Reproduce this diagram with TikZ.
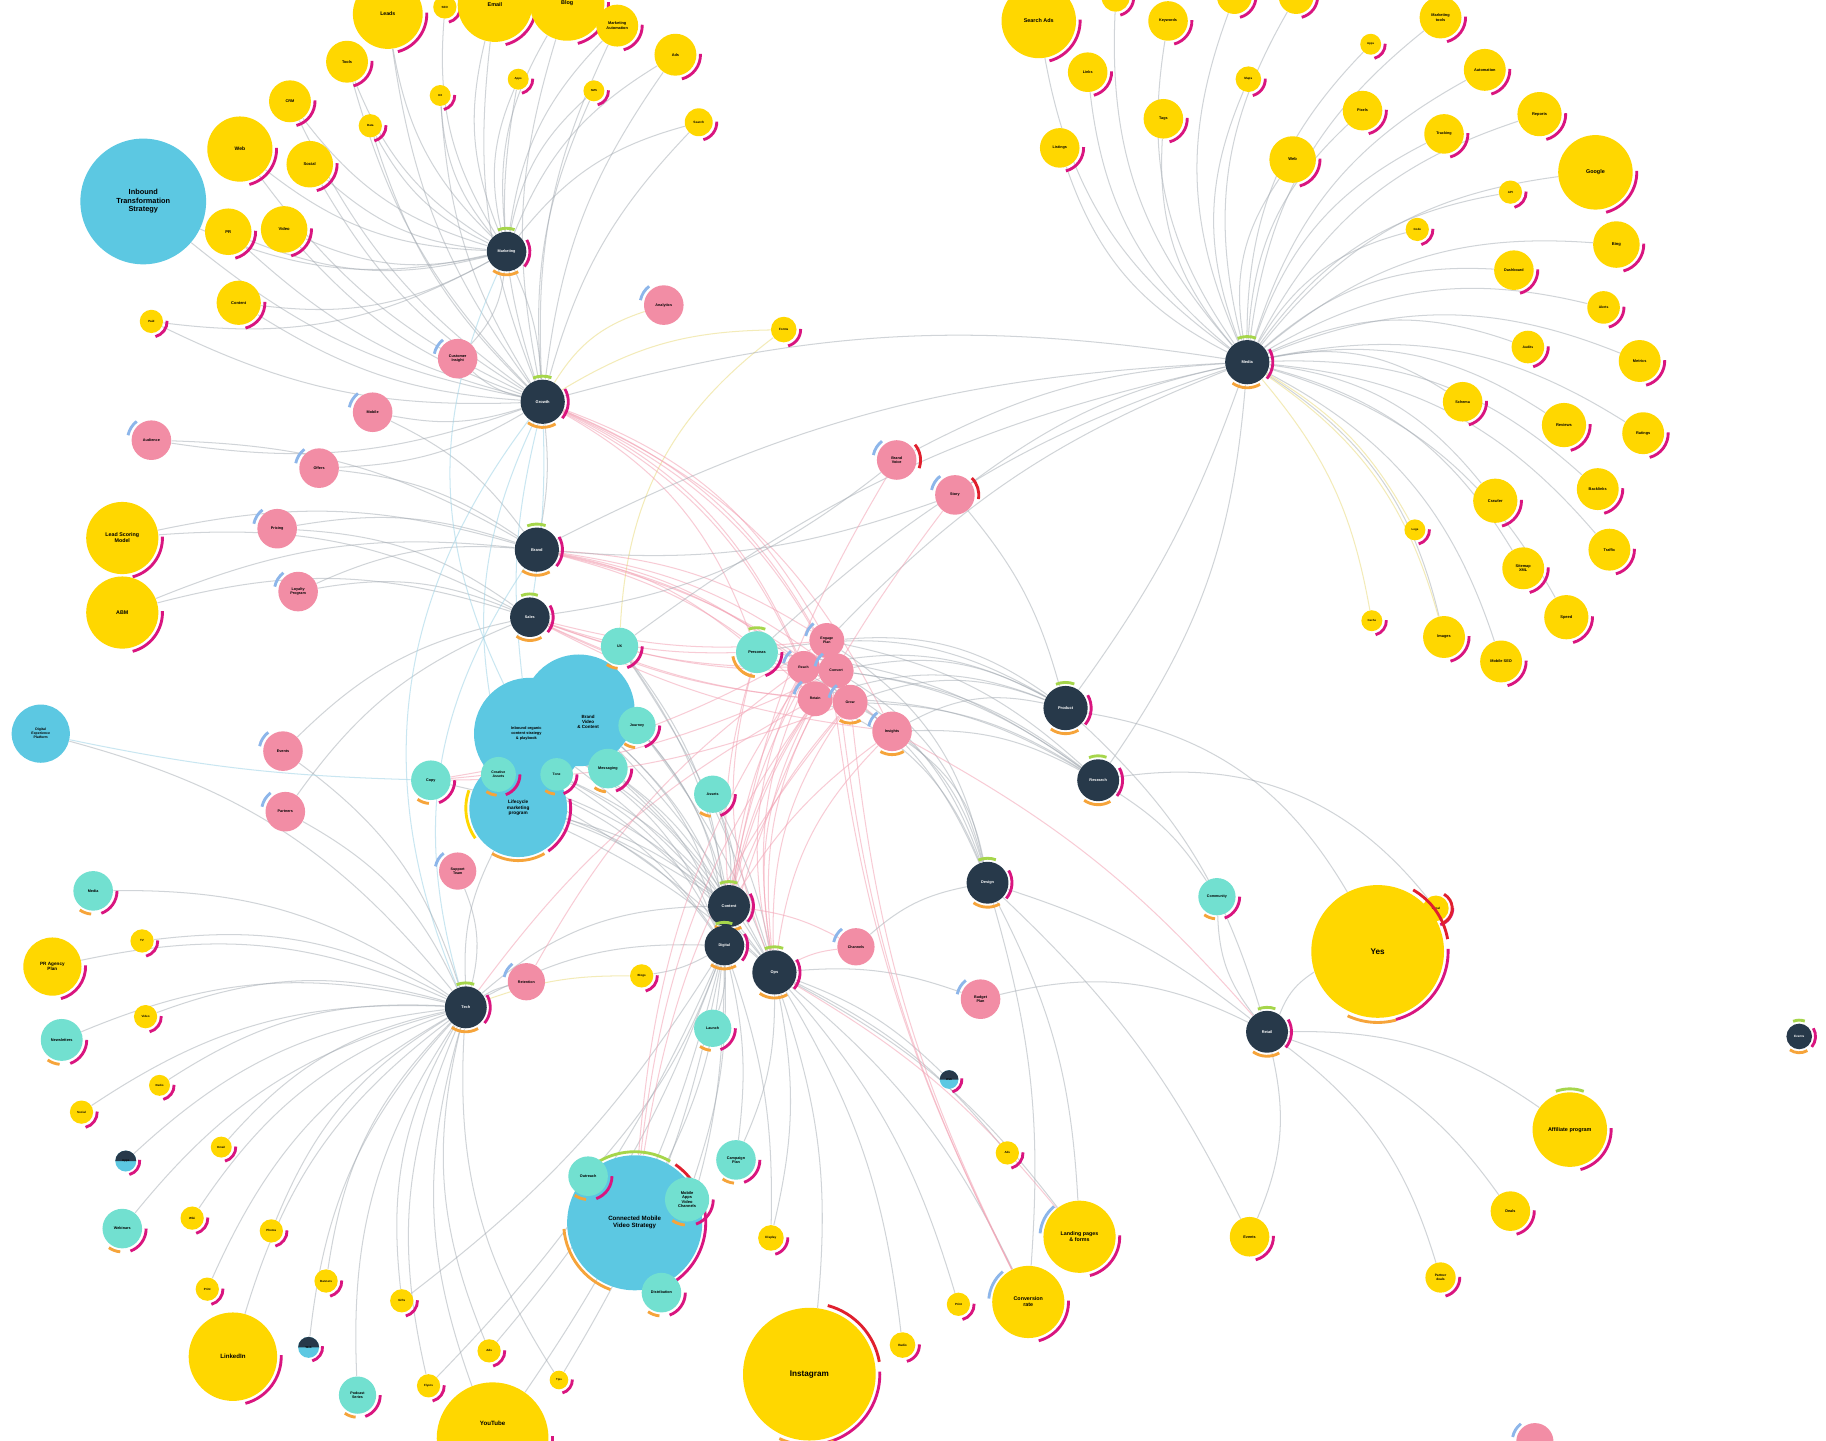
\documentclass[tikz,border=0pt]{standalone}
\usepackage{fontspec}
\setmainfont{Liberation Sans}
\usetikzlibrary{calc}
\definecolor{cY}{HTML}{FFD700}
\definecolor{cP}{HTML}{F28DA5}
\definecolor{cT}{HTML}{72E0D0}
\definecolor{cB}{HTML}{5CC8E2}
\definecolor{cD}{HTML}{27394A}
\definecolor{cM}{HTML}{D9157F}
\definecolor{cO}{HTML}{F6A43A}
\definecolor{cG}{HTML}{A6D64B}
\definecolor{cL}{HTML}{8DB6EA}
\definecolor{cR}{HTML}{E0202E}
\definecolor{cE}{HTML}{A3AAB2}
\definecolor{cEP}{HTML}{F3A2B4}
\definecolor{cEY}{HTML}{EFE39A}
\definecolor{cEB}{HTML}{9ED3E6}
\pgfdeclarelayer{bg}\pgfsetlayers{bg,main}
\newcommand\setfs[1]{\pgfmathsetmacro\myfs{min(4.0,0.9+(#1)*0.055)}\pgfmathsetmacro\myfsb{1.15*\myfs}}
\newcommand\fnt{\fontsize{\myfs pt}{\myfsb pt}\selectfont\bfseries}
\tikzset{
 nd/.style={circle,inner sep=0pt,align=center,text=black},
 ed/.style={draw=cE,line width=0.5pt,opacity=.5},
 edp/.style={draw=cEP,line width=0.5pt,opacity=.55},
 edy/.style={draw=cEY,line width=0.5pt,opacity=.7},
 edb/.style={draw=cEB,line width=0.5pt,opacity=.55},
 ring/.style={line width=1.4pt},
}
\newcommand\arcr[5]{\draw[ring,#5] (#1.center) ++(#2:{(#4)*0.02cm}) arc[start angle=#2,end angle=#3,radius={(#4)*0.02cm}];}
\newcommand\yn[5]{\setfs{#4}\node[nd,fill=cY,minimum size={#4*0.04cm},font=\fnt] (#1) at (#2,#3) {#5};\arcr{#1}{-75}{2}{#4+3.5}{cM}}
\newcommand\pn[5]{\setfs{#4}\node[nd,fill=cP,minimum size={#4*0.04cm},font=\fnt] (#1) at (#2,#3) {#5};\arcr{#1}{128}{168}{#4+3.5}{cL}}
\newcommand\tn[5]{\setfs{#4}\node[nd,fill=cT,minimum size={#4*0.04cm},font=\fnt] (#1) at (#2,#3) {#5};\arcr{#1}{-70}{0}{#4+3.5}{cM}\arcr{#1}{-125}{-95}{#4+3}{cO}}
\newcommand\bn[6]{\pgfmathsetmacro\myfs{#6}\pgfmathsetmacro\myfsb{1.15*\myfs}\node[nd,fill=cB,minimum size={#4*0.04cm},font=\fnt] (#1) at (#2,#3) {#5};}
\newcommand\hn[5]{\setfs{#4}\node[nd,fill=cD,text=white,minimum size={#4*0.04cm},font=\fnt] (#1) at (#2,#3) {#5};\arcr{#1}{70}{112}{#4+3}{cG}\arcr{#1}{-40}{30}{#4+3}{cM}\arcr{#1}{235}{300}{#4+3}{cO}}
\begin{document}
\begin{tikzpicture}[x=0.02cm,y=-0.02cm]
\useasboundingbox (0,0) rectangle (1568,1236.6);
\begin{pgfonlayer}{bg}\fill[white] (0,0) rectangle (1568,1236.6);\end{pgfonlayer}
% ---------- big blue ----------
\bn{b1}{123}{173}{54}{Inbound\\Transformation\\Strategy}{3.6}
\bn{b0}{35}{630}{25}{Digital\\Experience\\Platform}{1.7}
\bn{bb1}{455}{630}{48}{}{1.9}
\bn{bb2}{497}{610}{48}{}{2}
\node[font=\fontsize{2.2}{2.6}\selectfont\bfseries,align=center] at (505,620) {Brand\\Video\\\& Content};
\node[font=\fontsize{1.9}{2.3}\selectfont\bfseries,align=center] at (452,630) {Inbound organic\\content strategy\\\& playbook};
\bn{bb3}{445}{694}{42}{Lifecycle\\marketing\\program}{2.3}
\arcr{bb3}{-120}{-60}{45}{cO}\arcr{bb3}{-55}{10}{45}{cM}\arcr{bb3}{160}{215}{45}{cY}
\bn{B2}{545}{1050}{58}{Connected Mobile\\Video Strategy}{3.0}
\arcr{B2}{60}{120}{61}{cG}\arcr{B2}{-60}{20}{61}{cM}\arcr{B2}{185}{250}{61}{cO}\arcr{B2}{30}{55}{61}{cR}
% ---------- hubs ----------
\hn{H1}{435}{216}{17}{Marketing}
\hn{H2}{466}{345}{19}{Growth}
\hn{H3}{461}{472}{19}{Brand}
\hn{H4}{455}{530}{17}{Sales}
\hn{H5}{1071}{311}{19}{Media}
\hn{H6}{915}{608}{19}{Product}
\hn{H7}{943}{670}{18}{Research}
\hn{H8}{848}{758}{18}{Design}
\hn{H9}{626}{778}{18}{Content}
\hn{H10}{622}{812}{17}{Digital}
\hn{H11}{665}{835}{19}{Ops}
\hn{H12}{400}{865}{18}{Tech}
\hn{H13}{1088}{886}{18}{Retail}
\hn{H14}{1545}{890}{11}{Events}
% ---------- top-left yellows ----------
\foreach \n/\x/\y/\rr/\lb in {a1/333/12/30/Leads,a2/382/6/10/SEO,a3/425/4/32/Email,a4/487/3/32/Blog,
 a5/530/22/18/{Marketing\\Automation},a6/580/47/18/Ads,a7/298/53/18/Tools,a8/249/87/18/CRM,a9/206/128/28/Web,
 a10/266/141/20/Social,a11/196/199/20/PR,a12/244/197/20/Video,a13/205/260/19/Content,a14/130/276/10/Paid,
 a15/445/68/9/Apps,a16/378/82/9/UX,a17/510/78/9/SMS,a18/318/108/10/Data,a19/600/105/12/Search,
 y1/673/283/11/Forms,y2/105/462/31/{Lead Scoring\\Model},y3/105/526/31/ABM}
 {\yn{\n}{\x}{\y}{\rr}{\lb}}
% ---------- pinks ----------
\foreach \n/\x/\y/\rr/\lb in {p1/570/262/17/Analytics,p2/393/308/17/{Customer\\Insight},p3/320/354/17/Mobile,
 p4/130/378/17/Audience,p5/274/402/17/Offers,p6/238/454/17/Pricing,p7/256/508/17/{Loyalty\\Program},
 p8/243/645/17/Events,p9/245/697/17/Partners,p10/393/748/16/{Support\\Team},p11/452/843/16/Retention,
 p12/735/813/16/Channels,p13/842/858/17/{Budget\\Plan},p14/1318/1238/16/{},
 q7/770/395/17/{Brand\\Voice},q8/820/425/17/Story,q6/766/628/17/Insights,
 q1/710/550/15/{Engage\\Plan},q2/690/573/14/Reach,q3/718/576/15/Convert,q4/700/600/15/Retain,q5/730/603/15/Grow}
 {\pn{\n}{\x}{\y}{\rr}{\lb}}
\arcr{q7}{-20}{40}{20.5}{cR}\arcr{q8}{-10}{45}{20.5}{cR}\arcr{q6}{-120}{-60}{20}{cO}\arcr{q5}{-120}{-60}{18}{cO}
% ---------- teals ----------
\foreach \n/\x/\y/\rr/\lb in {c1/532/555/16/UX,c2/650/560/18/Personas,t1/547/623/16/Journey,t2/370/670/17/Copy,
 t3/428/665/15/{Creative\\Assets},t4/478/665/14/Tone,t5/522/660/17/Messaging,t6/612/682/16/Assets,
 t7/612/883/16/Launch,t8/632/996/17/{Campaign\\Plan},t9/1045/770/16/Community,
 t10/505/1010/17/Outreach,t11/590/1030/19/{Mobile\\Apps\\Video\\Channels},t12/568/1110/17/Distribution,
 t13/80/765/17/Media,t14/53/893/18/Newsletters,t15/105/1055/17/Webinars,t16/307/1198/16/{Podcast\\Series}}
 {\tn{\n}{\x}{\y}{\rr}{\lb}}
\arcr{c2}{70}{110}{21}{cG}\arcr{c2}{190}{260}{21}{cO}
% small dark-blue ones
\foreach \n/\x/\y/\rr/\lb in {s1/815/927/8/Web,s2/108/997/9/Apps,s3/265/1157/9/Web}
 {\setfs{\rr}\node[nd,fill=cB,minimum size={\rr*0.04cm},font=\fnt] (\n) at (\x,\y) {};
  \fill[cD] (\n.center) ++(180:{\rr*0.02cm}) arc[start angle=180,end angle=0,radius={\rr*0.02cm}] -- cycle;
  \node[font=\fnt] at (\n) {\lb};
  \arcr{\n}{-75}{5}{\rr+3}{cM}}
% ---------- mid/right yellows ----------
\foreach \n/\x/\y/\rr/\lb in {y4/551/838/10/Blogs,y5/865/990/10/Ads,y6/662/1063/11/Display,y7/775/1155/11/Radio,
 y8/823/1120/10/Print,y9/927/1062/31/{Landing pages\\\& forms},y10/883/1118/31/{Conversion\\rate},
 y11/695/1180/57/Instagram,y12/1073/1062/17/Events,y13/1237/1097/13/{Partner\\deals},y14/1297/1040/17/Deals,
 y15/1348/970/32/{Affiliate program},y16/1183/817/57/Yes,y17/1233/780/11/Local}
 {\yn{\n}{\x}{\y}{\rr}{\lb}}
\arcr{y11}{10}{75}{61}{cR}\arcr{y11}{-115}{-70}{61}{cO}\arcr{y16}{10}{60}{61}{cR}\arcr{y16}{-115}{-75}{61}{cO}
\arcr{y17}{-60}{60}{14}{cR}\arcr{y15}{70}{110}{35}{cG}\arcr{y9}{130}{175}{34}{cL}\arcr{y10}{130}{175}{34}{cL}
% ---------- bottom-left yellows ----------
\foreach \n/\x/\y/\rr/\lb in {y18/122/808/10/TV,y19/45/830/25/{PR Agency\\Plan},y20/125/873/10/Video,
 y21/137/932/9/Radio,y22/70/955/10/Social,y23/190/985/9/Email,y24/165/1046/10/Wiki,y25/233/1057/10/Photos,
 y26/178/1107/10/Print,y27/280/1100/10/Banners,y28/345/1117/10/Gifts,y29/200/1165/38/LinkedIn,
 y30/368/1190/10/Flyers,y31/420/1160/10/Ads,y32/480/1185/8/Tips,y33/423/1235/48/{}}
 {\yn{\n}{\x}{\y}{\rr}{\lb}}
\node[font=\fontsize{3}{3.4}\selectfont\bfseries] at (423,1222) {YouTube};
% ---------- top-right yellows ----------
\foreach \n/\x/\y/\rr/\lb in {r1/892/18/32/{Search Ads},r2/958/-2/12/{},r3/1003/18/17/Keywords,r4/1060/-3/15/{},
 r5/1113/-3/15/{},r6/1237/15/18/{Marketing\\tools},r7/1177/38/9/Apps,r8/934/62/17/Links,r9/1072/68/11/Maps,
 r10/1275/60/18/Automation,r11/999/102/17/Tags,r12/1170/95/17/Pixels,r13/1322/98/19/Reports,r14/910/127/17/Listings,
 r15/1110/137/20/Web,r16/1240/115/17/Tracking,r17/1370/148/32/Google,r18/1297/165/10/API,r19/1217/197/10/Code,
 r20/1388/210/20/Bing,r21/1300/232/17/Dashboard,r22/1377/264/14/Alerts,r23/1312/298/14/Audits,r24/1408/310/18/Metrics,
 r25/1256/345/17/Schema,r26/1343/365/19/Reviews,r27/1411/372/18/Ratings,r28/1372/420/18/Backlinks,r29/1284/430/19/Crawler,
 r30/1382/472/18/Traffic,r31/1215/455/9/Logs,r32/1308/488/18/{Sitemap\\XML},r33/1345/530/19/Speed,r34/1178/533/9/Cache,
 r35/1240/547/18/Images,r36/1289/568/18/{Mobile SEO}}
 {\yn{\n}{\x}{\y}{\rr}{\lb}}
% ================= edges =================
\begin{pgfonlayer}{bg}
\foreach \t in {a1,a2,a3,a4,a5,a6,a7,a8,a9,a10,a11,a12,a13,a14,a15,a16,a17,a18,a19,b1,p2}
 {\draw[ed] (H1) to[bend left=18] (\t);}
\foreach \t in {a1,a3,a4,a5,a6,a7,a8,a9,a10,a11,a12,a13,a14,a16,a18,a19,b1,p2,p3,p4,p5,a15,a17}
 {\draw[ed] (H2) to[bend left=14] (\t);}
\draw[edy] (H2) to[bend left=20] (p1);
\draw[edy] (H2) to[bend left=15] (y1);
\draw[edy] (c1) to[bend left=25] (y1);
\foreach \t in {p5,p6,p7,y2,y3,p4,p3}
 {\draw[ed] (H3) to[bend right=14] (\t);}
\foreach \t in {p6,p7,y2,y3,p8,p9}
 {\draw[ed] (H4) to[bend right=16] (\t);}
\draw[ed] (H1) to[bend left=10] (H2);
\draw[ed] (H2) to[bend left=8] (H3);
\draw[edb] (H2) to[bend right=10] (bb1);
\draw[edb] (H2) to[bend right=20] (bb3);
\draw[edb] (H2) to[bend left=5] (H4);
\draw[edb] (H2) to[bend right=30] (H12);
\draw[edb] (H3) to[bend right=25] (H12);
\draw[edb] (H1) to[bend right=25] (bb1);
% bottom-left cluster
\foreach \t in {t13,y18,y19,y20,t14,y21,y22,y23,s2,y24,y25,t15,y26,y27,y28,y29,s3,t16,y30,y31,y32,y33,p8,p9,p10,b0}
 {\draw[ed] (H12) to[bend right=18] (\t);}
\draw[ed] (H12) to[bend left=10] (p11);
\draw[ed] (H12) to[bend left=15] (bb3);
\draw[ed] (H12) to[bend left=20] (H9);
\draw[ed] (H12) to[bend left=15] (H10);
\draw[edp] (H12) to[bend left=12] (q4);
\draw[edp] (p11) to[bend left=12] (q2);
% central bundle
\foreach \s in {bb1,bb2,bb3,t1,t5,t4,t3,t6,c1}
 {\draw[ed] (\s) to[bend left=12] (H9); \draw[ed] (\s) to[bend left=18] (H10); \draw[ed] (\s) to[bend left=8] (H11);}
\foreach \t in {t7,t8,y4,y6,B2,t10,t11,t12,y33,y32,y31,y30,y28}
 {\draw[ed] (H10) to[bend left=10] (\t);}
\foreach \t in {y11,y7,y8,y10,y9,y5,s1,p13,t8,y6}
 {\draw[ed] (H11) to[bend left=12] (\t);}
\foreach \s in {q1,q2,q3,q4,q5,q6,c2}
 {\draw[edp] (\s) to[bend right=10] (H9); \draw[edp] (\s) to[bend right=18] (H11);
  \draw[edp] (\s) to[bend right=14] (H3); \draw[edp] (\s) to[bend left=10] (H4); \draw[edp] (\s) to[bend right=20] (H2);}
\foreach \s in {q1,q3,q5}
 {\draw[edp] (\s) to[bend right=10] (y10); \draw[edp] (\s) to[bend left=10] (t2); \draw[edp] (\s) to[bend right=15] (B2);}
\draw[edp] (H11) to[bend left=10] (p12);
\draw[edp] (H11) to[bend left=10] (y9);
% right-center hubs
\foreach \s in {q1,q2,q3,q4,q5,q6,c2}
 {\draw[ed] (\s) to[bend left=20] (H6); \draw[ed] (\s) to[bend left=15] (H7); \draw[ed] (\s) to[bend left=22] (H8);}
\draw[ed] (H6) to[bend right=12] (q8);
\draw[ed] (H6) to[bend right=8] (H5);
\draw[ed] (H7) to[bend right=15] (H5);
\draw[ed] (H8) to[bend left=10] (y10);
\draw[ed] (H8) to[bend left=12] (y9);
\draw[ed] (H8) to[bend right=15] (p12);
\draw[ed] (H6) to[bend left=25] (y16);
\draw[ed] (H7) to[bend left=30] (y17);
\draw[ed] (H7) to[bend left=12] (t9);
\draw[ed] (H8) to[bend left=10] (y12);
\foreach \s in {q7,q8,c2,q1,c1,H2,H3}
 {\draw[ed] (H5) to[bend right=12] (\s);}
\draw[ed] (q7) to[bend left=15] (H4);
\draw[ed] (q8) to[bend left=12] (H3);
\draw[edp] (q7) to[bend right=10] (H9);
\draw[edp] (q8) to[bend right=10] (H10);
% top-right cluster
\foreach \t in {r1,r2,r3,r4,r5,r6,r7,r8,r9,r10,r11,r12,r13,r14,r15,r16,r17,r18,r19,r20,r21,r22,r23,r24,r25,r26,r27,r28,r29,r30,r32,r33,r35,r36}
 {\draw[ed] (H5) to[bend left=22] (\t);}
\foreach \t in {r31,r34}
 {\draw[edy] (H5) to[bend left=15] (\t);}
\draw[edy] (H5) to[bend left=20] (r35);
% right hub
\foreach \t in {y15,y14,y13,y12,t9,y16}
 {\draw[ed] (H13) to[bend left=18] (\t);}
\draw[ed] (H13) to[bend right=20] (p13);
\draw[ed] (H13) to[bend right=15] (H6);
\draw[ed] (H13) to[bend right=10] (H8);
\draw[edp] (H13) to[bend right=10] (q6);
\draw[edp] (H9) to[bend left=10] (p12);
\draw[edy] (H12) to[bend left=10] (y4);
\draw[ed] (t2) to[bend left=10] (H9);
\draw[edb] (b0) to[bend right=5] (t2);
\end{pgfonlayer}
\end{tikzpicture}
\end{document}
